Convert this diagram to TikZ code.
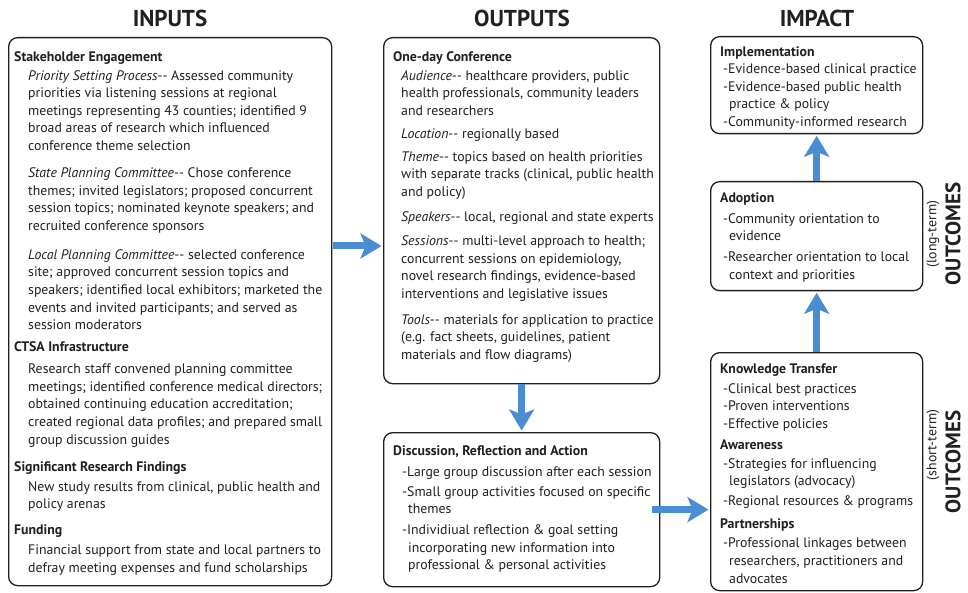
\documentclass[tikz,border=0pt]{standalone}
\usepackage{fontspec}
\setmainfont{PT Sans}
\usetikzlibrary{positioning, arrows.meta, calc}
\definecolor{flowBlue}{HTML}{4A8ED2}
\definecolor{panelLine}{HTML}{231F20}
\newlength{\tabsize}
\newcommand{\tabin}{\hspace*{\tabsize}}
\newcommand{\tabmore}{\hspace*{6pt}}
\newcommand{\dd}{-\kern0pt-}

\begin{document}
\begin{tikzpicture}[x=1pt, y=-1pt,
    colHeader/.style={font=\fontsize{23}{26}\selectfont\bfseries, text=panelLine, inner sep=0pt},
    panel/.style={draw=panelLine, line width=1.3pt, rectangle, rounded corners=9pt, anchor=north west, inner sep=0pt},
    panelText/.style={anchor=north west, align=left, inner sep=0pt, font=\fontsize{13.8}{17.6}\selectfont, text=panelLine, execute at begin node={\setlength{\tabsize}{#1}}},
    flowArrow/.style={draw=flowBlue, line width=7pt, -{Stealth[length=21pt, width=25pt, inset=5pt]}, shorten >=1.5pt},
    sideNote/.style={rotate=90, font=\fontsize{13.8}{15}\selectfont, text=panelLine, inner sep=0pt},
    sideHeader/.style={rotate=90, font=\fontsize{21}{24}\selectfont\bfseries, text=panelLine, inner sep=0pt},
]
\useasboundingbox[fill=white] (0,0) rectangle (968,593);

% column headers
\node[colHeader] (inputsHead) at (170,18) {INPUTS};
\node[colHeader] (outputsHead) at (522,18) {OUTPUTS};
\node[colHeader] (impactHead) at (817,18) {IMPACT};

% panels
\node[panel, minimum width=323pt, minimum height=548pt] (inputs) at (8,37) {};
\node[panel, minimum width=276pt, minimum height=346pt] (conf) at (383,37) {};
\node[panel, minimum width=276pt, minimum height=154pt] (disc) at (383,432) {};
\node[panel, minimum width=212pt, minimum height=97pt] (impl) at (710,36) {};
\node[panel, minimum width=212pt, minimum height=109pt] (adopt) at (710,181) {};
\node[panel, minimum width=212pt, minimum height=238pt] (kt) at (710,352) {};

% inputs
\node[panelText=14pt] (inputsText) at ($(inputs.north west)+(6,14.1)$) {
    \textbf{Stakeholder Engagement}\\[1.4pt]
    \tabin\textit{Priority Setting Process}\dd{} Assessed community\\
    \tabin priorities via listening sessions at regional\\
    \tabin meetings representing 43 counties; identified 9\\
    \tabin broad areas of research which influenced\\
    \tabin conference theme selection\\[9.4pt]
    \tabin\textit{State Planning Committee}\dd{} Chose conference\\
    \tabin themes; invited legislators; proposed concurrent\\
    \tabin session topics; nominated keynote speakers; and\\
    \tabin recruited conference sponsors\\[11.4pt]
    \tabin\textit{Local Planning Committee}\dd{} selected conference\\
    \tabin site; approved concurrent session topics and\\
    \tabin speakers; identified local exhibitors; marketed the\\
    \tabin events and invited participants; and served as\\
    \tabin session moderators\\[4.4pt]
    \textbf{CTSA Infrastructure}\\[4.4pt]
    \tabin Research staff convened planning committee\\
    \tabin meetings; identified conference medical directors;\\
    \tabin obtained continuing education accreditation;\\
    \tabin created regional data profiles; and prepared small\\
    \tabin group discussion guides\\[9.4pt]
    \textbf{Significant Research Findings}\\[2.4pt]
    \tabin New study results from clinical, public health and\\
    \tabin policy arenas\\[8.4pt]
    \textbf{Funding}\\[2.4pt]
    \tabin Financial support from state and local partners to\\
    \tabin defray meeting expenses and fund scholarships
};

% outputs
\node[panelText=8pt] (confText) at ($(conf.north west)+(10,14.1)$) {
    \textbf{One-day Conference}\\[1.4pt]
    \tabin\textit{Audience}\dd{} healthcare providers, public\\
    \tabin health professionals, community leaders\\
    \tabin and researchers\\[5.4pt]
    \tabin\textit{Location}\dd{} regionally based\\[5.4pt]
    \tabin\textit{Theme}\dd{} topics based on health priorities\\
    \tabin with separate tracks (clinical, public health\\
    \tabin and policy)\\[7.4pt]
    \tabin\textit{Speakers}\dd{} local, regional and state experts\\[6.4pt]
    \tabin\textit{Sessions}\dd{} multi-level approach to health;\\
    \tabin concurrent sessions on epidemiology,\\
    \tabin novel research findings, evidence-based\\
    \tabin interventions and legislative issues\\[8.4pt]
    \tabin\textit{Tools}\dd{} materials for application to practice\\
    \tabin (e.g. fact sheets, guidelines, patient\\
    \tabin materials and flow diagrams)
};
\node[panelText=9pt] (discText) at ($(disc.north west)+(10,13.1)$) {
    \textbf{Discussion, Reflection and Action}\\[3.4pt]
    \tabin-Large group discussion after each session\\[2.4pt]
    \tabin-Small group activities focused on specific\\
    \tabin\tabmore themes\\[3.4pt]
    \tabin-Individiual reflection \& goal setting\\
    \tabin\tabmore incorporating new information into\\
    \tabin\tabmore professional \& personal activities
};

% impact
\node[panelText=3pt] (implText) at ($(impl.north west)+(10,10.1)$) {
    \textbf{Implementation}\\
    \tabin-Evidence-based clinical practice\\
    \tabin-Evidence-based public health\\
    \tabin\tabmore practice \& policy\\
    \tabin-Community-informed research
};
\node[panelText=3pt] (adoptText) at ($(adopt.north west)+(10,11.1)$) {
    \textbf{Adoption}\\[3.4pt]
    \tabin-Community orientation to\\
    \tabin\tabmore evidence\\[3.4pt]
    \tabin-Researcher orientation to local\\
    \tabin\tabmore context and priorities
};
\node[panelText=3pt] (ktText) at ($(kt.north west)+(10,11.1)$) {
    \textbf{Knowledge Transfer}\\[2.4pt]
    \tabin-Clinical best practices\\
    \tabin-Proven interventions\\
    \tabin-Effective policies\\[3.4pt]
    \textbf{Awareness}\\[1.4pt]
    \tabin-Strategies for influencing\\
    \tabin\tabmore legislators (advocacy)\\[2.4pt]
    \tabin-Regional resources \& programs\\[5.4pt]
    \textbf{Partnerships}\\[1.4pt]
    \tabin-Professional linkages between\\
    \tabin\tabmore researchers, practitioners and\\
    \tabin\tabmore advocates
};

% outcome labels
\node[sideHeader] (longOut) at (953,234) {OUTCOMES};
\node[sideNote] (longNote) at (933,234) {(long-term)};
\node[sideHeader] (shortOut) at (953,462) {OUTCOMES};
\node[sideNote] (shortNote) at (933,445) {(short-term)};

% arrows
\coordinate (inRow) at (0,246);
\draw[flowArrow, shorten <=1pt] (inputs.east |- inRow) -- (conf.west |- inRow);
\draw[flowArrow] (conf.south) -- (disc.north);
\draw[flowArrow, shorten <=-8pt] (disc.east) -- (kt.west |- disc.east);
\draw[flowArrow] (kt.north) -- (adopt.south);
\draw[flowArrow] (adopt.north) -- (impl.south);
\end{tikzpicture}
\end{document}
